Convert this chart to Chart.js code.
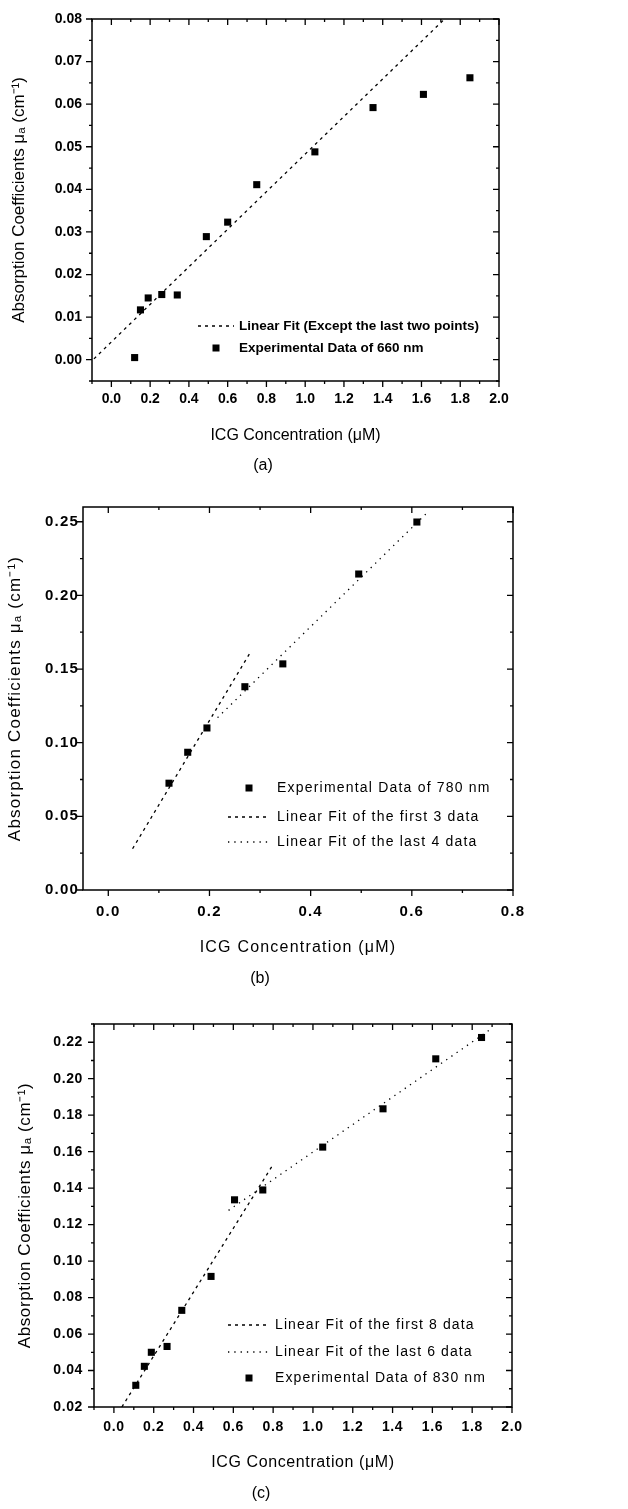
<!DOCTYPE html>
<html>
<head>
<meta charset="utf-8">
<script src="https://cdn.jsdelivr.net/npm/chart.js@4.4.1/dist/chart.umd.min.js"></script>
<style>
body { margin: 0; background: #fff; width: 628px; height: 1509px; position: relative; overflow: hidden; font-family: "Liberation Sans", Arial, sans-serif; }
canvas { position: absolute; left: 0; }
.cap { position: absolute; width: 40px; text-align: center; font-size: 16px; line-height: 20px; color: #000; }
</style>
</head>
<body>
<canvas id="chartA" width="628" height="480" style="top:0"></canvas>
<canvas id="chartB" width="628" height="520" style="top:480px"></canvas>
<canvas id="chartC" width="628" height="509" style="top:1000px"></canvas>
<div class="cap" style="left:243px;top:455px">(a)</div>
<div class="cap" style="left:240px;top:968px">(b)</div>
<div class="cap" style="left:241px;top:1483px">(c)</div>
<script>
// (a) 660 nm
var concA = [0.12, 0.15, 0.19, 0.26, 0.34, 0.49, 0.60, 0.75, 1.05, 1.35, 1.61, 1.85];
var muA = [0.0005, 0.0117, 0.0145, 0.0153, 0.0152, 0.0289, 0.0323, 0.0411, 0.0488, 0.0592, 0.0623, 0.0662];
var fitAx = [-0.09, 1.76];
var fitAy = [0.0002, 0.0818];

// (b) 780 nm
var concB = [0.12, 0.157, 0.195, 0.27, 0.345, 0.495, 0.61];
var muB = [0.0725, 0.0935, 0.110, 0.138, 0.1535, 0.2145, 0.2498];
var fitB1x = [0.048, 0.282];
var fitB1y = [0.028, 0.162];
var fitB2x = [0.216, 0.633];
var fitB2y = [0.117, 0.257];

// (c) 830 nm
var concC = [0.11, 0.153, 0.188, 0.267, 0.341, 0.488, 0.606, 0.748, 1.049, 1.352, 1.617, 1.847];
var muC = [0.0319, 0.0423, 0.050, 0.0532, 0.073, 0.0916, 0.1336, 0.139, 0.1625, 0.1835, 0.2109, 0.2226];
var fitC1x = [0.04, 0.80];
var fitC1y = [0.02, 0.153];
var fitC2x = [0.576, 1.883];
var fitC2y = [0.1278, 0.2264];

var xTitle = 'ICG Concentration (\u03bcM)';
var yTitle = 'Absorption Coefficients \u03bc\u2090 (cm\u207b\u00b9)';

Chart.defaults.color = '#000';
Chart.defaults.font.family = '"Liberation Sans", Arial, sans-serif';

function pts(xs, ys) {
    return xs.map(function(x, i) { return {x: x, y: ys[i]}; });
}

function dataSet(label, xs, ys) {
    return {label: label, data: pts(xs, ys), showLine: false, pointStyle: 'rect',
        pointRadius: 5, backgroundColor: '#000', borderColor: '#000', borderWidth: 0};
}

function fitSet(label, xs, ys, dash) {
    return {label: label, data: pts(xs, ys), showLine: true, pointRadius: 0,
        borderColor: '#000', borderWidth: 1.3, borderDash: dash, fill: false};
}

// frame, ticks on all four sides, and the legend inside the plot
var frameTicks = {
    id: 'frameTicks',
    beforeDraw: function(chart, args, o) {
        chart.ctx.letterSpacing = o.spacing || '0px';
    },
    afterDraw: function(chart, args, o) {
        var ctx = chart.ctx, a = chart.chartArea;
        var sx = chart.scales.x, sy = chart.scales.y;
        ctx.save();
        ctx.strokeStyle = '#000';
        ctx.lineWidth = 1.5;
        ctx.strokeRect(a.left, a.top, a.right - a.left, a.bottom - a.top);
        ctx.lineWidth = 1.3;
        ctx.beginPath();
        sx.ticks.forEach(function(t) {
            var p = sx.getPixelForValue(t.value), len = t.label ? 6 : 3;
            ctx.moveTo(p, a.bottom); ctx.lineTo(p, a.bottom + len);
            ctx.moveTo(p, a.top); ctx.lineTo(p, a.top + len);
        });
        sy.ticks.forEach(function(t) {
            var p = sy.getPixelForValue(t.value), len = t.label ? 6 : 3;
            ctx.moveTo(a.left, p); ctx.lineTo(a.left - len, p);
            ctx.moveTo(a.right, p); ctx.lineTo(a.right - len, p);
        });
        ctx.stroke();

        // legend
        ctx.letterSpacing = o.legendSpacing || '0px';
        ctx.font = o.legendFont;
        ctx.fillStyle = '#000';
        ctx.textBaseline = 'middle';
        ctx.textAlign = 'left';
        o.items.forEach(function(it) {
            var ds = chart.data.datasets[it.ds];
            if (ds.showLine) {
                ctx.save();
                ctx.lineWidth = 1.3;
                ctx.setLineDash(ds.borderDash);
                ctx.beginPath();
                ctx.moveTo(o.x0, it.y);
                ctx.lineTo(o.x1, it.y);
                ctx.stroke();
                ctx.restore();
            } else {
                var m = (o.x0 + o.x1) / 2;
                ctx.fillRect(m - 3.5, it.y - 3.5, 7, 7);
            }
            ctx.fillText(ds.label, o.textX, it.y);
        });
        ctx.restore();
    }
};

function makeChart(id, p) {
    var tickFont = {size: p.tickSize, weight: 'bold'};
    return new Chart(document.getElementById(id), {
        type: 'scatter',
        data: {datasets: p.datasets},
        options: {
            responsive: false,
            animation: false,
            layout: {padding: {left: 0, top: p.top, right: p.right, bottom: p.bottom}},
            plugins: {
                legend: {display: false},
                tooltip: {enabled: false},
                frameTicks: p.legend
            },
            scales: {
                x: {
                    type: 'linear', min: p.xMin, max: p.xMax,
                    grid: {display: false, drawTicks: false},
                    border: {display: false},
                    ticks: {
                        stepSize: p.xStep, autoSkip: false, includeBounds: false, maxRotation: 0,
                        padding: p.xPad, font: tickFont,
                        callback: function(v) {
                            return Math.round(v / p.xStep) % 2 === 0 ? v.toFixed(1) : '';
                        }
                    },
                    title: {display: true, text: xTitle, font: {size: 16}, padding: 0},
                    afterFit: function(s) { s.height = p.xHeight; }
                },
                y: {
                    type: 'linear', min: p.yMin, max: p.yMax,
                    grid: {display: false, drawTicks: false},
                    border: {display: false},
                    ticks: {
                        stepSize: p.yStep, autoSkip: false, includeBounds: false,
                        padding: p.yPad, font: tickFont,
                        callback: function(v) {
                            return Math.round(v / p.yStep) % 2 === 0 ? v.toFixed(2) : '';
                        }
                    },
                    title: {display: true, text: yTitle, font: {size: 17}, padding: {top: p.yTitlePad, bottom: 0}},
                    afterFit: function(s) { s.width = p.yWidth; }
                }
            }
        },
        plugins: [frameTicks]
    });
}

makeChart('chartA', {
    datasets: [
        fitSet('Linear Fit (Except the last two points)', fitAx, fitAy, [3, 4]),
        dataSet('Experimental Data of 660 nm', concA, muA)
    ],
    xMin: -0.1, xMax: 2.0, xStep: 0.1, yMin: -0.005, yMax: 0.08, yStep: 0.005,
    top: 19, right: 129, bottom: 35, xHeight: 64, yWidth: 92,
    xPad: 10, yPad: 10, yTitlePad: 9, tickSize: 14,
    legend: {
        spacing: '0px', legendFont: 'bold 13.5px "Liberation Sans", Arial, sans-serif', legendSpacing: '0px',
        x0: 198, x1: 234, textX: 239,
        items: [{ds: 0, y: 326}, {ds: 1, y: 348}]
    }
});

makeChart('chartB', {
    datasets: [
        dataSet('Experimental Data of 780 nm', concB, muB),
        fitSet('Linear Fit of the first 3 data', fitB1x, fitB1y, [3, 4]),
        fitSet('Linear Fit of the last 4 data', fitB2x, fitB2y, [1.3, 5])
    ],
    xMin: -0.05, xMax: 0.8, xStep: 0.1, yMin: 0, yMax: 0.26, yStep: 0.025,
    top: 27, right: 115, bottom: 43, xHeight: 67, yWidth: 83,
    xPad: 13, yPad: 4, yTitlePad: 5, tickSize: 15,
    legend: {
        spacing: '1.2px', legendFont: '14px "Liberation Sans", Arial, sans-serif', legendSpacing: '1.2px',
        x0: 228, x1: 270, textX: 277,
        items: [{ds: 0, y: 308}, {ds: 1, y: 337}, {ds: 2, y: 362}]
    }
});

makeChart('chartC', {
    datasets: [
        fitSet('Linear Fit of the first 8 data', fitC1x, fitC1y, [3, 4]),
        fitSet('Linear Fit of the last 6 data', fitC2x, fitC2y, [1.3, 5]),
        dataSet('Experimental Data of 830 nm', concC, muC)
    ],
    xMin: -0.1, xMax: 2.0, xStep: 0.1, yMin: 0.02, yMax: 0.23, yStep: 0.01,
    top: 24, right: 116, bottom: 37, xHeight: 65, yWidth: 94,
    xPad: 12, yPad: 11, yTitlePad: 15, tickSize: 14,
    legend: {
        spacing: '0.6px', legendFont: '14px "Liberation Sans", Arial, sans-serif', legendSpacing: '1.1px',
        x0: 228, x1: 270, textX: 275,
        items: [{ds: 0, y: 325}, {ds: 1, y: 352}, {ds: 2, y: 378}]
    }
});
</script>
</body>
</html>
